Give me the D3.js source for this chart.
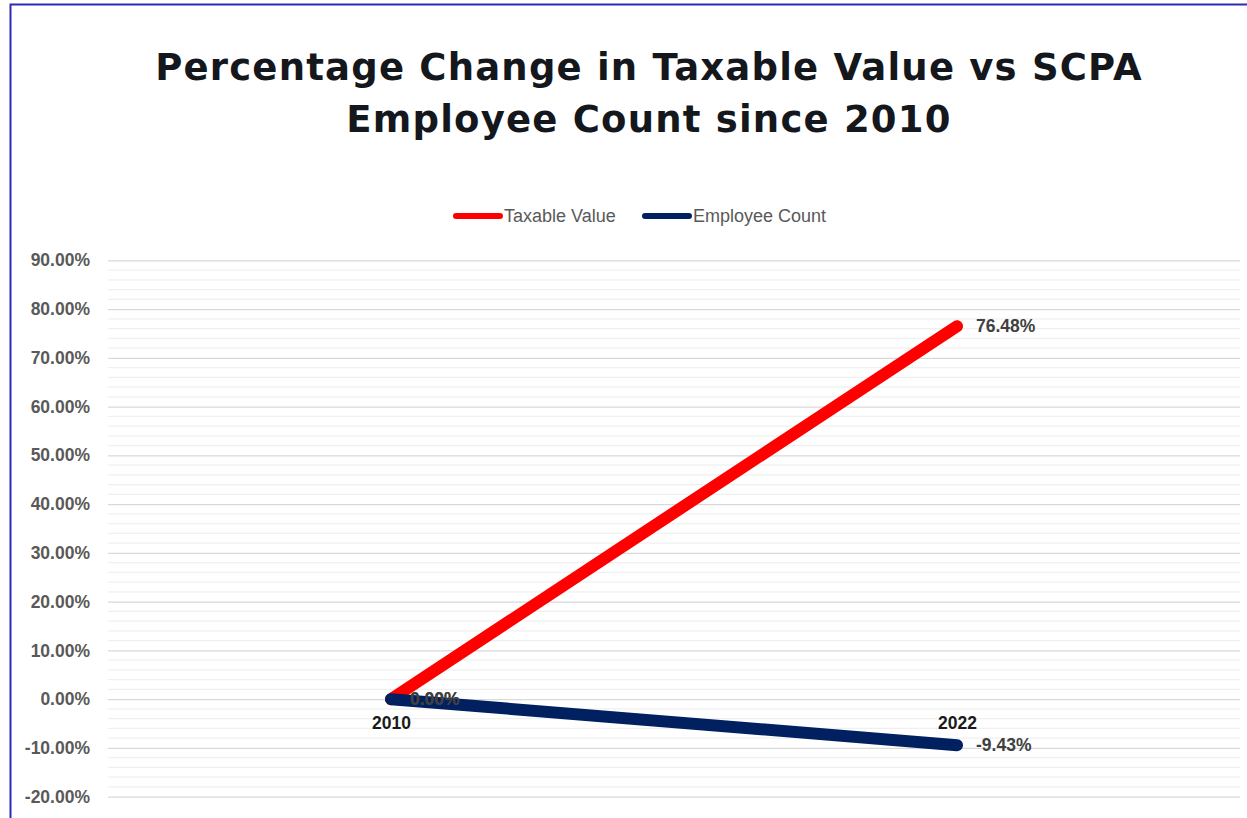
<!DOCTYPE html>
<html>
<head>
	<meta charset="utf-8">
	<title>Percentage Change in Taxable Value vs SCPA Employee Count</title>
	<script src="https://cdn.jsdelivr.net/npm/d3@7"></script>
	<style>
		html, body { margin: 0; padding: 0; background: #fff; }
		svg { display: block; }
		.ytick text { font: bold 17.5px "Liberation Sans", Arial, sans-serif; fill: #595959; }
		.xtick text { font: bold 17.5px "Liberation Sans", Arial, sans-serif; fill: #1a1a1a; }
		.dlabel { font: bold 17.5px "Liberation Sans", Arial, sans-serif; fill: #404040; }
		.legend text { font: 18px "Liberation Sans", Arial, sans-serif; fill: #595959; }
		.title { font: bold 37px "DejaVu Sans", sans-serif; fill: #14171c; letter-spacing: 1.2px; }
	</style>
</head>
<body>
<div id="chart"></div>
<script>
	var categories = ["2010", "2022"];
	var taxableValue = [0, 76.48];
	var employeeCount = [0, -9.43];
	var yTicks = [-20, -10, 0, 10, 20, 30, 40, 50, 60, 70, 80, 90];
	var yMinor = d3.range(-20, 91, 2);

	var seriesNames = ["Taxable Value", "Employee Count"];
	var seriesColors = ["#ff0000", "#002060"];

	var W = 1247, H = 818;
	var plotLeft = 108, plotRight = 1240, plotTop = 260.3, plotBottom = 796.7;

	var svg = d3.select('#chart').append('svg')
		.attr('width', W).attr('height', H);

	// frame (only top and left show in the picture)
	svg.append('path')
		.attr('d', 'M10.5,' + (H + 5) + ' V4.5 H' + (W + 5))
		.attr('fill', 'none')
		.attr('stroke', '#2b2bb8')
		.attr('stroke-width', 2);

	// title
	var title = svg.append('text').attr('class', 'title').attr('text-anchor', 'middle');
	title.append('tspan').attr('x', 649).attr('y', 80).text('Percentage Change in Taxable Value vs SCPA');
	title.append('tspan').attr('x', 649).attr('y', 132).text('Employee Count since 2010');

	var x = d3.scalePoint().domain(categories).range([plotLeft, plotRight]).padding(0.5);
	var y = d3.scaleLinear().domain([-20, 90]).range([plotBottom, plotTop]);

	// minor gridlines
	svg.append('g').selectAll('line')
		.data(yMinor.filter(function(d) { return d % 10 !== 0; }))
		.enter().append('line')
			.attr('x1', plotLeft).attr('x2', plotRight)
			.attr('y1', function(d) { return y(d); })
			.attr('y2', function(d) { return y(d); })
			.attr('stroke', '#f0f0f0')
			.attr('stroke-width', 1.3);

	// y axis with major gridlines
	var yAxis = svg.append('g')
		.attr('class', 'ytick')
		.attr('transform', 'translate(' + plotLeft + ',0)')
		.call(d3.axisLeft(y).tickValues(yTicks).tickSize(-(plotRight - plotLeft)).tickPadding(18)
			.tickFormat(function(d) { return d.toFixed(2) + '%'; }));
	yAxis.select('.domain').remove();
	yAxis.selectAll('line').attr('stroke', '#d9d9d9').attr('stroke-width', 1.3);

	// x axis sits on the zero line
	var xAxis = svg.append('g')
		.attr('class', 'xtick')
		.attr('transform', 'translate(0,' + y(0) + ')')
		.call(d3.axisBottom(x).tickSize(0).tickPadding(17));
	xAxis.select('.domain').remove();

	var line = d3.line()
		.x(function(d, i) { return x(categories[i]); })
		.y(function(d) { return y(d); });

	var series = [taxableValue, employeeCount];
	series.forEach(function(s, k) {
		svg.append('path')
			.datum(s)
			.attr('d', line)
			.attr('fill', 'none')
			.attr('stroke', seriesColors[k])
			.attr('stroke-width', 12)
			.attr('stroke-linecap', 'round')
			.attr('stroke-linejoin', 'round');
	});

	// data labels
	series.forEach(function(s) {
		svg.append('g').selectAll('text')
			.data(s)
			.enter().append('text')
				.attr('class', 'dlabel')
				.attr('x', function(d, i) { return x(categories[i]) + 19; })
				.attr('y', function(d) { return y(d); })
				.attr('dy', '0.35em')
				.text(function(d) { return d.toFixed(2) + '%'; });
	});

	// legend
	var lg = svg.append('g').attr('class', 'legend');
	var lx = [453, 642];
	seriesNames.forEach(function(n, k) {
		lg.append('line')
			.attr('x1', lx[k] + 3).attr('x2', lx[k] + 47)
			.attr('y1', 216).attr('y2', 216)
			.attr('stroke', seriesColors[k])
			.attr('stroke-width', 6)
			.attr('stroke-linecap', 'round');
		lg.append('text')
			.attr('x', lx[k] + 51).attr('y', 216)
			.attr('dy', '0.35em')
			.text(n);
	});
</script>
</body>
</html>
